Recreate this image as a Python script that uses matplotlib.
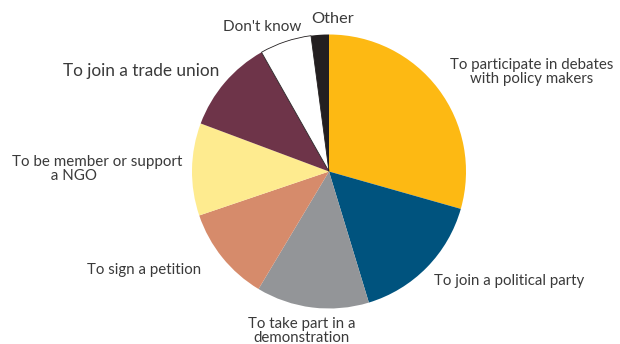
import matplotlib
matplotlib.use("Agg")
import matplotlib.pyplot as plt

# Share of answers per form of participation (%)
categories = [
    "To participate in debates\nwith policy makers",
    "To join a political party",
    "To take part in a\ndemonstration",
    "To sign a petition",
    "To be member or support\n          a NGO",
    "To join a trade union",
    "Don't know",
    "Other",
]
values = [29.4, 15.9, 13.3, 11.2, 10.9, 11.1, 6.1, 2.1]
colors = ["#FDB913", "#00537E", "#939598", "#D68B6B",
          "#FEEB8F", "#6E3449", "#FFFFFF", "#231F20"]

# Label placement (pixel coordinates, top-left origin) and alignment
label_pos = [(532, 72), (434, 281), (302, 331), (87, 270),
             (12, 169), (63, 71), (223, 27), (311, 19)]
label_ha = ["center", "left", "center", "left", "left", "left", "left", "left"]
label_size = [10.8, 10.8, 10.8, 10.8, 10.9, 12.4, 11, 11.8]

W, H = 620, 344
fig = plt.figure(figsize=(W / 100, H / 100), dpi=100)
ax = fig.add_axes([0, 0, 1, 1])

wedges, _ = ax.pie(values, colors=colors, startangle=90, counterclock=False,
                   center=(329, H - 171.5), radius=137, frame=True)
# thin outline around the white slice
wedges[6].set_edgecolor("#231F20")
wedges[6].set_linewidth(0.6)
ax.set_xlim(0, W)
ax.set_ylim(0, H)
ax.set_aspect("equal")
ax.axis("off")

for text, (px, py), ha, fs in zip(categories, label_pos, label_ha, label_size):
    ax.text(px, H - py, text, ha=ha, va="center", fontsize=fs,
            family="Lato", color="#3a3a3a", linespacing=1.05,
            multialignment="center" if ha == "center" else "left")

fig.savefig("out.png", dpi=100)
